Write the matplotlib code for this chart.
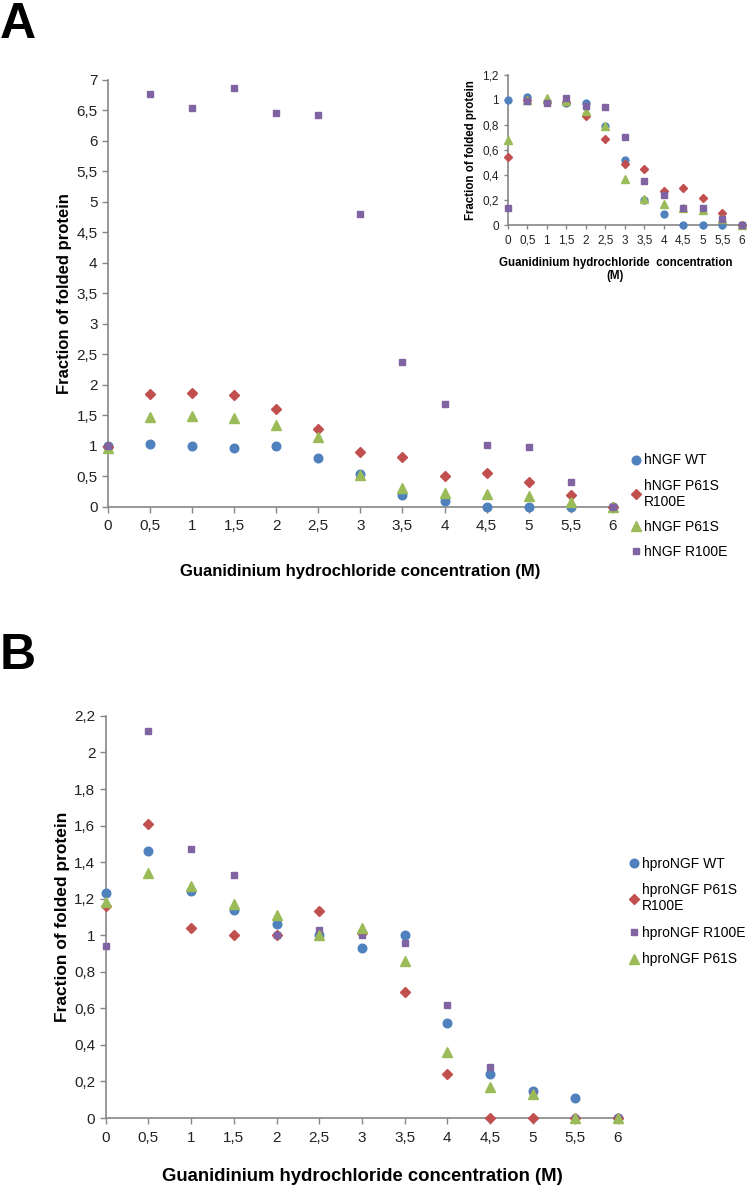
import matplotlib
matplotlib.use('Agg')
import matplotlib.pyplot as plt
from matplotlib.ticker import FuncFormatter, MultipleLocator

plt.rcParams['font.family'] = ['Liberation Sans', 'DejaVu Sans']

# Concentración de cloruro de guanidinio (M)
conc = [0, 0.5, 1, 1.5, 2, 2.5, 3, 3.5, 4, 4.5, 5, 5.5, 6]

# Panel A - hNGF
a_wt = [1.0, 1.03, 1.0, 0.97, 0.99, 0.8, 0.54, 0.2, 0.1, 0, 0, 0, 0]
a_p61s_r100e = [0.98, 1.85, 1.86, 1.83, 1.6, 1.28, 0.9, 0.82, 0.5, 0.56, 0.41, 0.2, 0]
a_p61s = [0.97, 1.48, 1.49, 1.46, 1.34, 1.15, 0.53, 0.31, 0.23, 0.21, 0.18, 0.08, 0]
a_r100e = [1.0, 6.76, 6.53, 6.87, 6.45, 6.43, 4.8, 2.37, 1.69, 1.01, 0.98, 0.4, 0]
a_labels = ['hNGF WT', 'hNGF P61S\nR100E', 'hNGF P61S', 'hNGF R100E']

# Inset A - normalizado
i_wt = [1.0, 1.02, 0.98, 0.97, 0.97, 0.79, 0.52, 0.2, 0.09, 0, 0, 0, 0]
i_p61s_r100e = [0.54, 1.0, 0.98, 0.98, 0.87, 0.69, 0.49, 0.45, 0.27, 0.3, 0.22, 0.1, 0]
i_p61s = [0.68, 1.0, 1.01, 0.99, 0.91, 0.79, 0.37, 0.21, 0.17, 0.14, 0.12, 0.05, 0]
i_r100e = [0.14, 0.99, 0.97, 1.01, 0.95, 0.94, 0.7, 0.35, 0.24, 0.14, 0.14, 0.05, 0]

# Panel B - hproNGF
b_wt = [1.23, 1.46, 1.24, 1.14, 1.06, 1.0, 0.93, 1.0, 0.52, 0.24, 0.15, 0.11, 0]
b_p61s_r100e = [1.16, 1.61, 1.04, 1.0, 1.0, 1.13, 1.01, 0.69, 0.24, 0, 0, 0, 0]
b_r100e = [0.94, 2.12, 1.47, 1.33, 1.0, 1.03, 1.0, 0.96, 0.62, 0.28, 0.13, 0, 0]
b_p61s = [1.18, 1.34, 1.27, 1.17, 1.11, 1.0, 1.04, 0.86, 0.36, 0.17, 0.13, 0, 0]
b_labels = ['hproNGF WT', 'hproNGF P61S\nR100E', 'hproNGF R100E', 'hproNGF P61S']

azul, rojo, verde, morado = '#4F81BD', '#C0504D', '#9BBB59', '#8064A2'
gris = '#868686'

coma = FuncFormatter(lambda v, p: ('%g' % round(v, 2)).replace('.', ','))


def estilo(ax, ymax, ystep, fs):
    ax.set_xlim(0, 6)
    ax.set_ylim(0, ymax)
    ax.xaxis.set_major_locator(MultipleLocator(0.5))
    ax.yaxis.set_major_locator(MultipleLocator(ystep))
    ax.xaxis.set_major_formatter(coma)
    ax.yaxis.set_major_formatter(coma)
    for s in ['top', 'right']:
        ax.spines[s].set_visible(False)
    for s in ['left', 'bottom']:
        ax.spines[s].set_color(gris)
        ax.spines[s].set_linewidth(1.2)
    ax.tick_params(colors=gris, labelcolor='#222222', labelsize=fs,
                   length=4, width=1)
    ax.tick_params(axis='x', pad=5)


def puntos(ax, series, k=1.0):
    estilos = {azul: ('o', 6.2), rojo: ('D', 5.0), verde: ('^', 6.8), morado: ('s', 5.0)}
    hs = []
    for ys, c, lab in series:
        mk, ms = estilos[c]
        h, = ax.plot(conc, ys, ls='none', marker=mk, ms=ms * k, color=c,
                     mec=c, label=lab, clip_on=False, zorder=3)
        hs.append(h)
    return hs


fig = plt.figure(figsize=(7.5, 12.04), dpi=100)

# ---- Panel A ----
axA = fig.add_axes([0.144, 0.579, 0.673, 0.3547])
hA = puntos(axA, [(a_wt, azul, a_labels[0]), (a_p61s_r100e, rojo, a_labels[1]),
                  (a_p61s, verde, a_labels[2]), (a_r100e, morado, a_labels[3])])
estilo(axA, 7, 0.5, 11)
axA.set_ylabel('Fraction of folded protein', fontsize=12, fontweight='bold', labelpad=3)
axA.set_xlabel('Guanidinium hydrochloride concentration (M)', fontsize=12,
               fontweight='bold', labelpad=22)
fig.legend(handles=hA, loc='upper left', bbox_to_anchor=(0.835, 0.628),
           frameon=False, fontsize=10, handlelength=0.6, handletextpad=0.3,
           labelspacing=0.8, borderaxespad=0)

# Inset
axI = fig.add_axes([0.677, 0.813, 0.312, 0.125])
puntos(axI, [(i_wt, azul, ''), (i_p61s_r100e, rojo, ''),
             (i_p61s, verde, ''), (i_r100e, morado, '')], k=0.8)
estilo(axI, 1.2, 0.2, 8.5)
axI.tick_params(length=3)
axI.tick_params(axis='x', pad=4)
axI.set_ylabel('Fraction of folded protein', fontsize=8.3, fontweight='bold', labelpad=4)
axI.set_xlabel('Guanidinium hydrochloride  concentration\n(M)', fontsize=8.3,
               fontweight='bold', linespacing=1.1)
axI.xaxis.set_label_coords(0.46, -0.21)

fig.text(0.0, 0.998, 'A', fontsize=36, fontweight='bold', va='top', ha='left')

# ---- Panel B ----
axB = fig.add_axes([0.141, 0.0714, 0.683, 0.334])
hB = puntos(axB, [(b_wt, azul, b_labels[0]), (b_p61s_r100e, rojo, b_labels[1]),
                  (b_r100e, morado, b_labels[2]), (b_p61s, verde, b_labels[3])])
estilo(axB, 2.2, 0.2, 11)
axB.set_ylabel('Fraction of folded protein', fontsize=12.5, fontweight='bold', labelpad=3)
axB.set_xlabel('Guanidinium hydrochloride concentration (M)', fontsize=13.3,
               fontweight='bold', labelpad=17)
fig.legend(handles=hB, loc='upper left', bbox_to_anchor=(0.832, 0.293),
           frameon=False, fontsize=10, handlelength=0.6, handletextpad=0.3,
           labelspacing=0.9, borderaxespad=0)

fig.text(0.0, 0.474, 'B', fontsize=36, fontweight='bold', va='top', ha='left')

fig.savefig('out.png', dpi=100, facecolor='white')
